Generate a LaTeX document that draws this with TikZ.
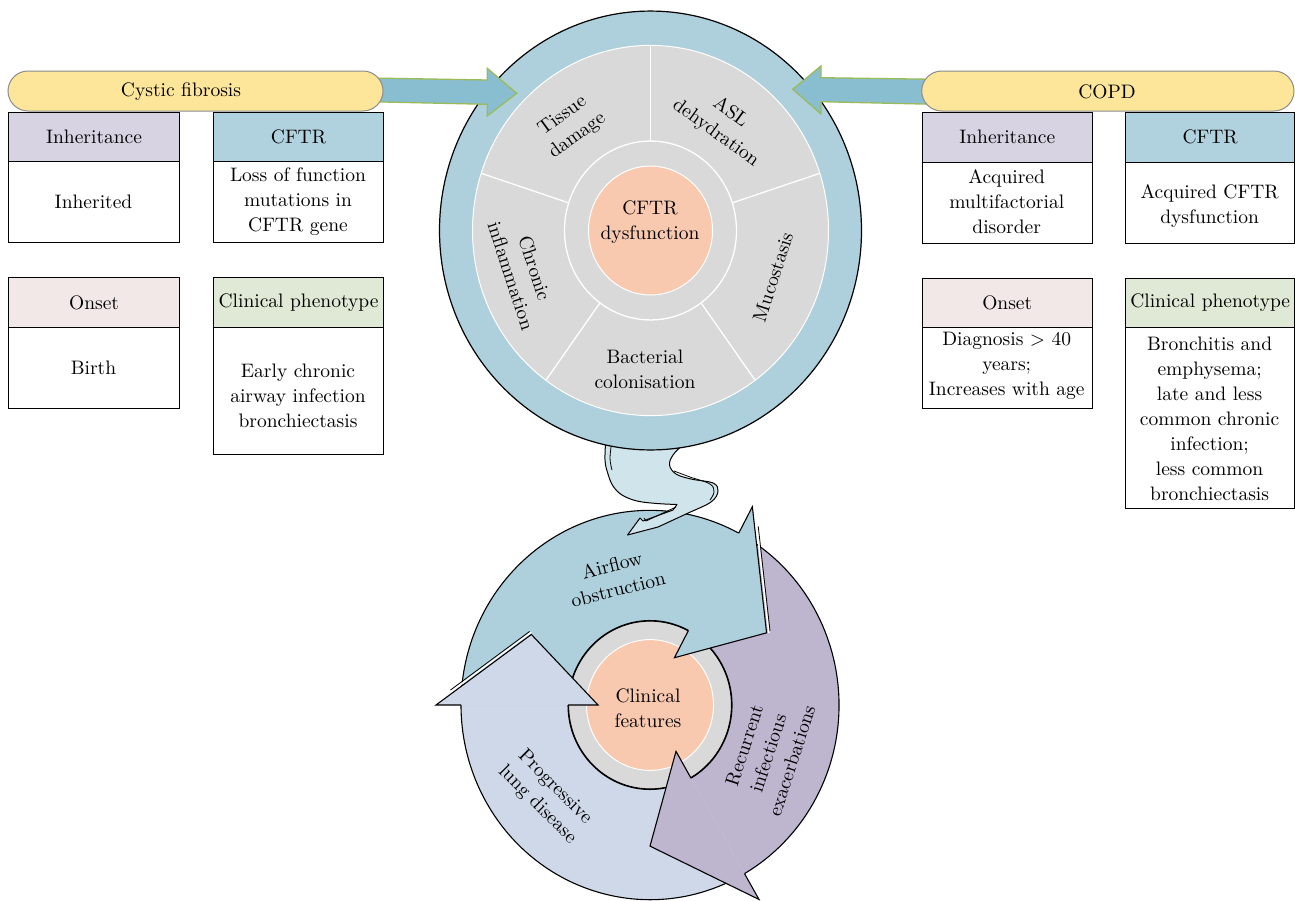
\documentclass[tikz,border=0pt]{standalone}
\usepackage{fontspec}
\usetikzlibrary{calc}
\definecolor{ringblue}{HTML}{AED0DC}
\definecolor{arrowblue}{HTML}{89BED1}
\definecolor{arrowgreen}{HTML}{9BBB59}
\definecolor{bannery}{HTML}{FDE59A}
\definecolor{bannerline}{HTML}{8C8C8C}
\definecolor{segray}{HTML}{D9D9D9}
\definecolor{peach}{HTML}{F9C9AF}
\definecolor{hdrlav}{HTML}{D8D3E3}
\definecolor{hdrblue}{HTML}{B0D2DE}
\definecolor{hdrpink}{HTML}{F3E8E8}
\definecolor{hdrgreen}{HTML}{E0E9D5}
\definecolor{cycpurple}{HTML}{BEB5CF}
\definecolor{cycpale}{HTML}{CED8E8}
\definecolor{ribboncol}{HTML}{D0E4EC}
\begin{document}
\begin{tikzpicture}[x=1pt,y=-1pt,
  txt/.style={font=\fontsize{10}{12.8}\selectfont, align=center, inner sep=0pt, scale=1.95},
  boxhdr/.style={draw=black, line width=1.1pt, anchor=north west, inner sep=0pt},
  boxbody/.style={draw=black, line width=1.1pt, fill=white, anchor=north west, inner sep=0pt},
  banner/.style={fill=bannery, draw=bannerline, line width=1pt, rounded corners=20pt},
  bigarrow/.style={fill=arrowblue, draw=arrowgreen, line width=1.3pt, line join=miter},
  edge/.style={draw=black, line width=1.1pt}
]
\useasboundingbox (0,0) rectangle (1295,900);

% ---------------- bottom cycle ----------------
\begin{scope}[shift={(650,705)}, y=1pt, yscale=1.03]
  \filldraw[fill=segray, draw=black, line width=1.1pt] (0,0) circle[radius=81.5];
  \filldraw[fill=peach, draw=white, line width=1pt] (0,0) circle[radius=63.5];
  % bodies
  \fill[cycpale] (-60:189) arc[start angle=-60, end angle=-180, radius=189] -- (-180:82) arc[start angle=-180, end angle=-60, radius=82] -- cycle;
  \draw[edge] (-60:189) arc[start angle=-60, end angle=-180, radius=189];
  \draw[edge] (-180:82) arc[start angle=-180, end angle=-60, radius=82];
  \fill[ringblue] (180:189) arc[start angle=180, end angle=62, radius=189] -- (62:82) arc[start angle=62, end angle=180, radius=82] -- cycle;
  \draw[edge] (180:189) arc[start angle=180, end angle=62, radius=189];
  \draw[edge] (62:82) arc[start angle=62, end angle=180, radius=82];
  \fill[cycpurple] (62:189) arc[start angle=62, end angle=-60, radius=189] -- (-60:82) arc[start angle=-60, end angle=62, radius=82] -- cycle;
  \draw[edge] (62:189) arc[start angle=62, end angle=-60, radius=189];
  \draw[edge] (-60:82) arc[start angle=-60, end angle=62, radius=82];
  % tail cut lines (thin white gap next to the heads)
  \draw[white, line width=1.6pt] ($(180:214)!0.13!(150:137)+(0,2.2)$) -- ($(180:214)!1!(150:137)+(0,2.2)$);
  \draw[black, line width=0.8pt] ($(180:214)!0.16!(150:137)+(-0.8,3.6)$) -- ($(180:214)!0.99!(150:137)+(-0.8,3.6)$);
  \draw[white, line width=1.6pt] ($(62:218)!0.12!(31:136)+(2.2,0)$) -- ($(62:218)!1!(31:136)+(2.2,0)$);
  \draw[black, line width=0.8pt] ($(62:218)!0.16!(31:136)+(3.6,0.6)$) -- ($(62:218)!0.99!(31:136)+(3.6,0.6)$);
  % heads
  \fill[ringblue] (62:82) -- (62:52) -- (31:136) -- (62:218) -- (62:189) -- cycle;
  \draw[edge, line join=miter] (62:82) -- (62:52) -- (31:136) -- (62:218) -- (62:189);
  \fill[cycpurple] (-60:82) -- (-60:52) -- (-90:137) -- (-60:218) -- (-60:189) -- cycle;
  \draw[edge, line join=miter] (-60:82) -- (-60:52) -- (-90:137) -- (-60:218) -- (-60:189);
  \fill[cycpale] (180:82) -- (180:52) -- (150:137) -- (180:214) -- (180:189) -- cycle;
  \draw[edge, line join=miter] (180:82) -- (180:52) -- (150:137) -- (180:214) -- (180:189);
\end{scope}

% ---------------- ribbon connector ----------------
\coordinate (ribtip) at (627.5,535);
\filldraw[fill=ribboncol, draw=black, line width=1pt, line join=round]
  (606,436) -- plot[smooth, tension=0.6] coordinates {(606,436) (605,460) (608,474) (613,486) (622,495) (637,501) (657,503.5) (677,504.5)}
  -- (673,510) -- (643,521) -- (640,518) -- (ribtip) -- (658,527)
  -- plot[smooth, tension=0.6] coordinates {(658,527) (686,514) (711,502) (718,491) (713,483) (691,479) (676,474) (669.5,465) (673,455) (683,444) (687,436)}
  -- cycle;
\draw[line width=0.8pt] plot[smooth, tension=0.6] coordinates {(612,440) (610,458) (612,470)};
\draw[line width=0.8pt] plot[smooth, tension=0.6] coordinates {(674,471) (690,477) (710,484) (714,492) (710,500)};
\draw[line width=0.8pt] (676,507) -- (646,521) -- (644,518);

% ---------------- top circle ----------------
\begin{scope}[shift={(650.5,230.5)}, y=1pt, yscale=1.04]
  \filldraw[fill=ringblue, draw=black, line width=1.2pt] (0,0) circle[radius=211];
  \filldraw[fill=segray, draw=white, line width=1pt] (0,0) circle[radius=178];
  \foreach \a in {90,162,234,306,18} \draw[white, line width=1.3pt] (\a:86) -- (\a:178);
  \draw[white, line width=1.3pt] (0,0) circle[radius=86];
  \filldraw[fill=peach, draw=white, line width=1pt] (0,0) circle[radius=62];
\end{scope}

\node[txt] (cftrdys) at (650,222) {CFTR\\dysfunction};
\node[txt, rotate=36] (tissue) at (570,126) {Tissue\\damage};
\node[txt, rotate=-36] (asl) at (723,123) {ASL\\dehydration};
\node[txt, rotate=-72] (chronic) at (523,272) {Chronic\\inflammation};
\node[txt, rotate=72] (muco) at (773,277) {Mucostasis};
\node[txt] (bact) at (645,369) {Bacterial\\colonisation};

\node[txt, rotate=14] (airflow) at (615,577) {Airflow\\obstruction};
\node[txt] (clin) at (648,708) {Clinical\\features};
\node[txt, rotate=-45] (prog) at (546,796) {Progressive\\lung disease};
\node[txt, rotate=72] (recur) at (768,753) {Recurrent\\infectious\\exacerbations};

% ---------------- big arrows ----------------
\draw[bigarrow] (370,78) -- (487.3,80) -- (487.3,68.3) -- (516.7,93.3) -- (487.3,116) -- (487.3,104.3) -- (370,101.7) -- cycle;
\draw[bigarrow] (935,79.3) -- (821,77.7) -- (821,66) -- (792.7,89.3) -- (821,114) -- (821,101.7) -- (935,104.3) -- cycle;

% ---------------- banners ----------------
\draw[banner] (8,71) rectangle (383,111);
\node[txt] (cf) at (181,92) {Cystic fibrosis};
\draw[banner] (921.7,71) rectangle (1294,111);
\node[txt] (copd) at (1107,92) {COPD};

% ---------------- left boxes ----------------
\node[boxhdr, fill=hdrlav, minimum width=171pt, minimum height=49pt] (inhL) at (8,112) {};
\node[txt] (inhLh) at (inhL.center) {Inheritance};
\node[boxbody, minimum width=171pt, minimum height=81pt] (inhLb) at (8,161) {};
\node[txt] (inhLt) at (93.5,202) {Inherited};

\node[boxhdr, fill=hdrblue, minimum width=170pt, minimum height=49pt] (cftrL) at (213,112) {};
\node[txt] (cftrLh) at (cftrL.center) {CFTR};
\node[boxbody, minimum width=170pt, minimum height=81pt] (cftrLb) at (213,161) {};
\node[txt] (cftrLt) at (298,202) {Loss of function\\mutations in\\CFTR gene};

\node[boxhdr, fill=hdrpink, minimum width=171pt, minimum height=50pt] (onsL) at (8,277) {};
\node[txt] (onsLh) at (onsL.center) {Onset};
\node[boxbody, minimum width=171pt, minimum height=81pt] (onsLb) at (8,327) {};
\node[txt] (onsLt) at (93.5,368) {Birth};

\node[boxhdr, fill=hdrgreen, minimum width=170pt, minimum height=50pt] (cliL) at (213,277) {};
\node[txt] (cliLh) at (cliL.center) {Clinical phenotype};
\node[boxbody, minimum width=170pt, minimum height=127pt] (cliLb) at (213,327) {};
\node[txt] (cliLt) at (298,396) {Early chronic\\airway infection\\bronchiectasis};

% ---------------- right boxes ----------------
\node[boxhdr, fill=hdrlav, minimum width=170pt, minimum height=49.5pt] (inhR) at (921.7,112) {};
\node[txt] (inhRh) at (inhR.center) {Inheritance};
\node[boxbody, minimum width=170pt, minimum height=81.5pt] (inhRb) at (921.7,161.5) {};
\node[txt] (inhRt) at (1006.7,202) {Acquired\\multifactorial\\disorder};

\node[boxhdr, fill=hdrblue, minimum width=169.3pt, minimum height=49.5pt] (cftrR) at (1125,112) {};
\node[txt] (cftrRh) at (cftrR.center) {CFTR};
\node[boxbody, minimum width=169.3pt, minimum height=81.5pt] (cftrRb) at (1125,161.5) {};
\node[txt] (cftrRt) at (1209.6,206) {Acquired CFTR\\dysfunction};

\node[boxhdr, fill=hdrpink, minimum width=170pt, minimum height=49pt] (onsR) at (921.7,277.7) {};
\node[txt] (onsRh) at (onsR.center) {Onset};
\node[boxbody, minimum width=170pt, minimum height=81.6pt] (onsRb) at (921.7,326.7) {};
\node[txt] (onsRt) at (1006.7,366) {Diagnosis > 40\\years;\\Increases with age};

\node[boxhdr, fill=hdrgreen, minimum width=169.3pt, minimum height=49pt] (cliR) at (1125,277.7) {};
\node[txt] (cliRh) at (cliR.center) {Clinical phenotype};
\node[boxbody, minimum width=169.3pt, minimum height=181.6pt] (cliRb) at (1125,326.7) {};
\node[txt] (cliRt) at (1209.6,418.5) {Bronchitis and\\emphysema;\\late and less\\common chronic\\infection;\\less common\\bronchiectasis};
\end{tikzpicture}
\end{document}
